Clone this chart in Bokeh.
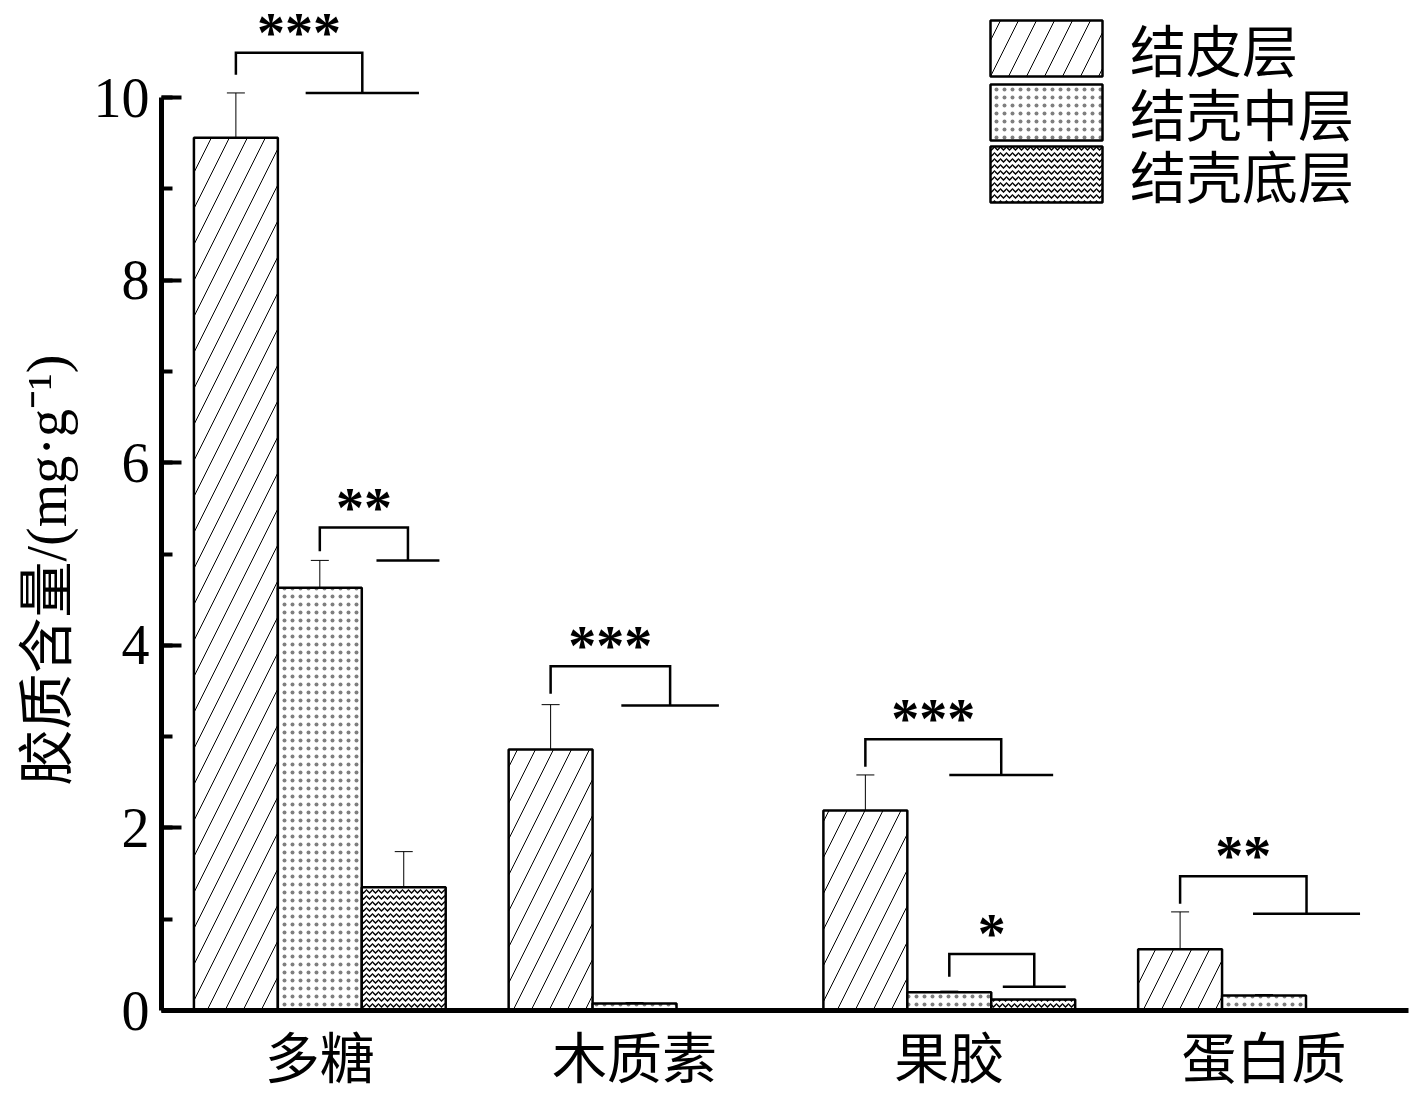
import numpy as np
from bokeh.plotting import figure
from bokeh.models import (Range1d, ColumnDataSource, Whisker, TeeHead, FixedTicker,
                          SingleIntervalTicker, Legend, LegendItem, Title)
from bokeh.core.properties import value
from bokeh.embed import file_html
from bokeh.resources import INLINE

# ---------------- data ----------------
categories = ["多糖", "木质素", "果胶", "蛋白质"]
series_names = ["结皮层", "结壳中层", "结壳底层"]
skin = [9.56, 2.86, 2.19, 0.67]
skin_err = [0.49, 0.49, 0.39, 0.41]
mid = [4.63, 0.077, 0.20, 0.165]
mid_err = [0.30, 0.01, 0.012, 0.01]
bottom = [1.35, 0.0, 0.12, 0.0]
bottom_err = [0.39, 0.0, 0.0, 0.0]
y_ticks = [0, 2, 4, 6, 8, 10]
y_label = "胶质含量/(mg·g⁻¹)"

# significance brackets
sig_labels = ["***", "***", "***", "**", "**", "*"]
sig_group = [0, 1, 2, 3, 0, 2]
sig_from = [0, 0, 0, 0, 1, 1]
sig_top = [10.49, 3.77, 2.97, 1.47, 5.29, 0.62]
sig_leg = [10.25, 3.47, 2.67, 1.17, 5.03, 0.37]
sig_low = [10.05, 3.34, 2.58, 1.06, 4.93, 0.26]
sig_right_off = [0.135, 0.113, 0.165, 0.135, 0.28, 0.27]
sig_half = [0.18, 0.155, 0.165, 0.17, 0.10, 0.10]

# ---------------- layout ----------------
W, H = 1419, 1099
bar_w = 84 / 315
xs = np.arange(1, len(categories) + 1, dtype=float)
offsets = [-bar_w, 0.0, bar_w]
patterns = [dict(hatch_pattern="/", hatch_scale=36, hatch_weight=1, hatch_alpha=1.0),
            dict(hatch_pattern=".", hatch_scale=8, hatch_weight=1, hatch_alpha=0.5),
            dict(hatch_pattern="v", hatch_scale=6, hatch_weight=1.4, hatch_alpha=1.0)]

p = figure(width=W, height=H, output_backend="svg", toolbar_location=None,
           x_range=Range1d(0.497, 4.459), y_range=Range1d(0, 10.953),
           min_border_left=160, min_border_right=11, min_border_top=10,
           min_border_bottom=89)
p.outline_line_color = None
p.grid.visible = False

CJK = "Noto Sans CJK SC"
SERIF = "Liberation Serif"

vals = [skin, mid, bottom]
errs = [skin_err, mid_err, bottom_err]
renderers = []
for k in range(3):
    src = ColumnDataSource(dict(x=xs + offsets[k], top=vals[k]))
    r = p.vbar(x="x", top="top", width=bar_w, bottom=0, source=src,
               fill_color="white", line_color="black", line_width=2.5,
               hatch_color="black", **patterns[k])
    renderers.append(r)

# error bars
bx, up, lo = [], [], []
for k in range(3):
    for i in range(len(categories)):
        if errs[k][i] > 0:
            bx.append(xs[i] + offsets[k])
            up.append(vals[k][i] + errs[k][i])
            lo.append(vals[k][i] - errs[k][i])
esrc = ColumnDataSource(dict(base=bx, upper=up, lower=lo))
p.add_layout(Whisker(source=esrc, base="base", upper="upper", lower="lower",
                     dimension="height", line_color="black", line_width=1,
                     upper_head=TeeHead(size=18, line_width=1, line_color="black"),
                     lower_head=TeeHead(size=18, line_width=1, line_color="black")))

# significance brackets
bl = [xs[g] + offsets[f] for g, f in zip(sig_group, sig_from)]
br = [xs[g] + o for g, o in zip(sig_group, sig_right_off)]
paths_x = [[a, a, b, b] for a, b in zip(bl, br)]
paths_y = [[lg, t, t, lw] for lg, t, lw in zip(sig_leg, sig_top, sig_low)]
p.multi_line(xs=paths_x, ys=paths_y, line_color="black", line_width=2.5,
             line_join="miter")
p.segment(x0=[b - h for b, h in zip(br, sig_half)], x1=[b + h for b, h in zip(br, sig_half)],
          y0=sig_low, y1=sig_low, line_color="black", line_width=2.5)
p.text(x=[(a + b) / 2 for a, b in zip(bl, br)], y=sig_top, text=sig_labels,
       text_align="center", text_baseline="alphabetic", y_offset=-20,
       text_font=value(SERIF), text_font_size="56px", text_font_style="bold",
       text_color="black")

# axes
yax = p.yaxis[0]
yax.ticker = SingleIntervalTicker(interval=2, num_minor_ticks=2)
yax.bounds = (0, 10)
yax.axis_line_width = 5
yax.major_tick_in = 20
yax.major_tick_out = 0
yax.major_tick_line_width = 4
yax.minor_tick_in = 11
yax.minor_tick_out = 0
yax.minor_tick_line_width = 4
yax.major_label_text_font = SERIF
yax.major_label_text_font_size = "56px"
yax.major_label_standoff = 12
yax.major_label_text_color = "black"

xax = p.xaxis[0]
xax.ticker = FixedTicker(ticks=list(xs))
xax.major_label_overrides = {float(x): c for x, c in zip(xs, categories)}
xax.axis_line_width = 5
xax.major_tick_in = 0
xax.major_tick_out = 0
xax.minor_tick_line_color = None
xax.major_label_text_font = CJK
xax.major_label_text_font_size = "55px"
xax.major_label_standoff = 3
xax.major_label_text_color = "black"

p.add_layout(Title(text=y_label, align="left", offset=225, standoff=26,
                   text_font=SERIF + ", " + CJK, text_font_size="56px",
                   text_font_style="normal", text_color="black"), "left")

# legend: one Legend per row for exact placement
leg_y = [922, 858, 796]
for n, r, ly in zip(series_names, renderers, leg_y):
    lg = Legend(items=[LegendItem(label=n, renderers=[r])],
                location=(815, ly), glyph_width=140, glyph_height=70, spacing=0,
                label_standoff=14, padding=0, margin=0, border_line_color=None,
                background_fill_alpha=0, label_text_font=CJK,
                label_text_font_size="56px", label_text_color="black")
    p.add_layout(lg)

open("out.html", "w").write(file_html(p, INLINE))
